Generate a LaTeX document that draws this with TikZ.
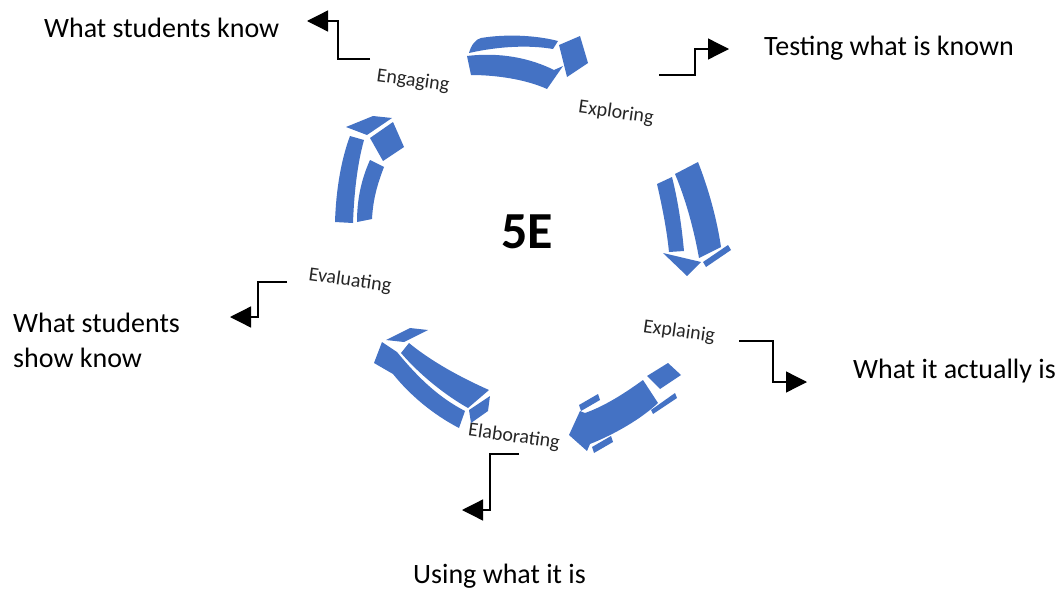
\documentclass[tikz,border=0pt]{standalone}
\usepackage{fontspec}
\setmainfont{Carlito}
\usetikzlibrary{arrows.meta}
\definecolor{cycleblue}{HTML}{4472C4}
\tikzset{
  outcome/.style={font=\fontsize{28}{35}\selectfont, inner sep=0pt, align=left},
  stage/.style={font=\fontsize{20}{24}\selectfont, text=black!85, rotate=-8, inner sep=0pt},
  elbow/.style={line width=1.3pt, -{Triangle[width=21pt,length=21pt]}},
  cyclepart/.style={fill=cycleblue, draw=none},
}
\begin{document}
\begin{tikzpicture}[x=1pt, y=-1pt]
    \useasboundingbox (0,0) rectangle (1057,589);

    % stages of the cycle
    \node[font=\fontsize{52}{60}\selectfont\bfseries, inner sep=0pt] (five) at (527,232) {5E};
    \node[stage] (engaging) at (413,81) {Engaging};
    \node[stage] (exploring) at (616,113) {Exploring};
    \node[stage] (explaining) at (679,332) {Explainig};
    \node[stage] (elaborating) at (514,437) {Elaborating};
    \node[stage] (evaluating) at (350,281) {Evaluating};

    % what each stage leads to
    \node[outcome, anchor=base west] (know) at (44,37) {What students know};
    \node[outcome, anchor=base west] (testing) at (764,55) {Testing what is known};
    \node[outcome, anchor=base west] (actually) at (853,378) {What it actually is};
    \node[outcome, anchor=base west] (using) at (413,583) {Using what it is};
    \node[outcome, anchor=base west] (show) at (13,367) {What students\\show know};

    % engaging -> exploring
    \fill[cyclepart] (469,53) .. controls (471,45) and (476,39) .. (481,38) .. controls (505,34) and (535,35) .. (558,41) -- (553,49) .. controls (530,45) and (500,46) .. (469,53) -- cycle;
    \fill[cyclepart] (467,56) .. controls (500,52) and (530,58) .. (554,70) -- (563,66) -- (547,89) .. controls (525,79) and (495,75) .. (471,75) -- cycle;
    \fill[cyclepart] (559,45) -- (580,36) -- (588,63) -- (567,77) -- cycle;

    % exploring -> explaining
    \fill[cyclepart] (657,184) .. controls (663,210) and (667,232) .. (669,252) -- (684,251) .. controls (682,230) and (679,205) .. (672,177) -- cycle;
    \fill[cyclepart] (675,174) -- (698,162) .. controls (709,190) and (717,220) .. (721,247) -- (699,258) .. controls (694,230) and (686,200) .. (675,174) -- cycle;
    \fill[cyclepart] (663,253) -- (701,262) -- (687,276) -- cycle;
    \fill[cyclepart] (703,262) -- (728,245) -- (731,250) -- (706,267) -- cycle;

    % explaining -> elaborating
    \fill[cyclepart] (647,376) -- (668,363) -- (681,375) -- (660,389) -- cycle;
    \fill[cyclepart] (643,380) .. controls (625,393) and (605,406) .. (585,413) -- (580,411) -- (569,435) -- (587,451) -- (590,444) .. controls (615,434) and (641,419) .. (658,403) -- cycle;
    \fill[cyclepart] (579,405) -- (598,394) -- (600,400) -- (581,411) -- cycle;
    \fill[cyclepart] (592,447) -- (611,436) -- (613,442) -- (594,453) -- cycle;
    \fill[cyclepart] (651,410) -- (675,393) -- (677,398) -- (653,414) -- cycle;

    % elaborating -> evaluating
    \fill[cyclepart] (386,340) -- (410,328) -- (428,330) -- (404,342) -- cycle;
    \fill[cyclepart] (409,343) .. controls (432,362) and (462,378) .. (489,390) -- (468,408) .. controls (445,395) and (420,375) .. (401,353) -- cycle;
    \fill[cyclepart] (374,363) -- (382,342) -- (397,352) .. controls (420,380) and (440,398) .. (465,411) -- (459,428) .. controls (432,414) and (409,394) .. (393,374) -- cycle;
    \fill[cyclepart] (469,410) -- (490,396) -- (488,411) -- (471,423) -- cycle;

    % evaluating -> engaging
    \fill[cyclepart] (335,222) .. controls (336,190) and (341,160) .. (350,136) -- (364,140) .. controls (357,165) and (354,195) .. (353,223) -- cycle;
    \fill[cyclepart] (346,127) -- (373,116) -- (392,118) -- (367,135) -- cycle;
    \fill[cyclepart] (393,122) -- (404,147) -- (383,161) -- (370,138) -- cycle;
    \fill[cyclepart] (357,222) .. controls (357,200) and (361,180) .. (370,160) -- (384,167) .. controls (377,185) and (373,200) .. (372,219) -- cycle;

    % connectors to the outcomes
    \coordinate (engaging-out) at (370,59);
    \coordinate (know-in) at (307,21);
    \coordinate (exploring-out) at (659,75);
    \coordinate (testing-in) at (729,49);
    \coordinate (explaining-out) at (739,341);
    \coordinate (actually-in) at (807,382);
    \coordinate (elaborating-out) at (519,454);
    \coordinate (using-in) at (462,510);
    \coordinate (evaluating-out) at (287,282);
    \coordinate (show-in) at (230,317);

    \draw[elbow] (engaging-out) -- ++(-32,0) |- (know-in);
    \draw[elbow] (exploring-out) -- ++(36,0) |- (testing-in);
    \draw[elbow] (explaining-out) -- ++(34,0) |- (actually-in);
    \draw[elbow] (elaborating-out) -- ++(-29,0) |- (using-in);
    \draw[elbow] (evaluating-out) -- ++(-29,0) |- (show-in);
\end{tikzpicture}
\end{document}
